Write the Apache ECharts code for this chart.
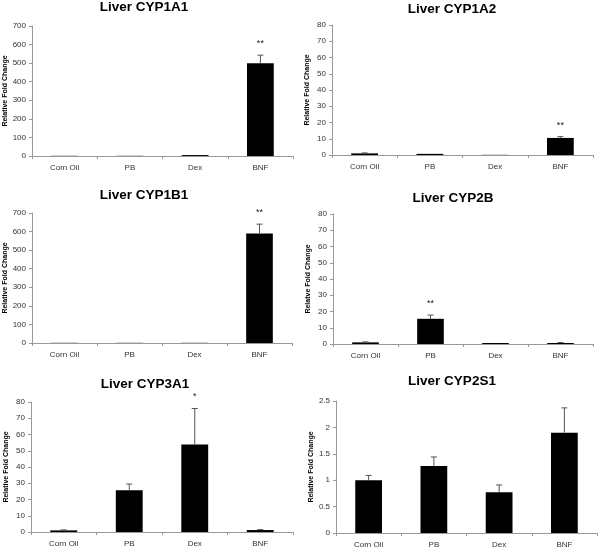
<!DOCTYPE html>
<html>
<head>
<meta charset="utf-8">
<title>Liver CYP expression</title>
<script src="https://cdn.jsdelivr.net/npm/echarts@6/dist/echarts.min.js"></script>
<style>
    html, body { margin: 0; padding: 0; background: #fff; }
    #chart { width: 600px; height: 549px; }
</style>
</head>
<body>
<div id="chart"></div>
<script>
// treatment groups
const categories = ['Corn Oil', 'PB', 'Dex', 'BNF']

// mean fold change and upper error (SD) per gene
const cyp1a1Mean = [1, 1, 5, 500]
const cyp1a1Err = [0.3, 0.3, 1, 43]
const cyp1a2Mean = [1, 0.7, 0.1, 10.5]
const cyp1a2Err = [0.3, 0.2, 0.05, 0.8]
const cyp1b1Mean = [1, 1, 1, 590]
const cyp1b1Err = [0.2, 0.2, 0.2, 50]
const cyp2bMean = [1, 15.5, 0.6, 0.6]
const cyp2bErr = [0.3, 2.3, 0.2, 0.3]
const cyp3a1Mean = [1, 25.7, 53.8, 1.2]
const cyp3a1Err = [0.3, 3.8, 22.2, 0.3]
const cyp2s1Mean = [1.0, 1.27, 0.77, 1.9]
const cyp2s1Err = [0.09, 0.17, 0.14, 0.47]

// significance marks
const cyp1a1Sig = ['', '', '', '**']
const cyp1a2Sig = ['', '', '', '**']
const cyp1b1Sig = ['', '', '', '**']
const cyp2bSig = ['', '**', '', '']
const cyp3a1Sig = ['', '', '*', '']
const cyp2s1Sig = ['', '', '', '']

// y axis ranges
const yMax = [700, 80, 700, 80, 80, 2.5]
const yStep = [100, 10, 100, 10, 10, 0.5]

const panels = [
    { title: 'Liver CYP1A1', yName: 'Relative Fold Change', mean: cyp1a1Mean, err: cyp1a1Err, sig: cyp1a1Sig },
    { title: 'Liver CYP1A2', yName: 'Relative Fold Change', mean: cyp1a2Mean, err: cyp1a2Err, sig: cyp1a2Sig },
    { title: 'Liver CYP1B1', yName: 'Relative Fold Change', mean: cyp1b1Mean, err: cyp1b1Err, sig: cyp1b1Sig },
    { title: 'Liver CYP2B', yName: 'Relatve Fold Change', mean: cyp2bMean, err: cyp2bErr, sig: cyp2bSig },
    { title: 'Liver CYP3A1', yName: 'Relative Fold Change', mean: cyp3a1Mean, err: cyp3a1Err, sig: cyp3a1Sig },
    { title: 'Liver CYP2S1', yName: 'Relative Fold Change', mean: cyp2s1Mean, err: cyp2s1Err, sig: cyp2s1Sig }
]

// layout of each panel (px)
const grids = [
    { left: 32, top: 26, width: 261, height: 130 },
    { left: 332, top: 25, width: 261, height: 130 },
    { left: 32, top: 213, width: 260, height: 130 },
    { left: 333, top: 214, width: 260, height: 130 },
    { left: 31, top: 402, width: 262, height: 130 },
    { left: 336, top: 401, width: 261, height: 133 }
]
const titlePos = [
    { x: 144, y: 0 }, { x: 452, y: 2 }, { x: 144, y: 188 },
    { x: 453, y: 191 }, { x: 145, y: 377 }, { x: 452, y: 374 }
]

const font = '"Liberation Sans", Arial, sans-serif'

function renderError(params, api) {
    const x = api.value(0)
    const base = api.coord([x, api.value(1)])
    const top = api.coord([x, api.value(1) + api.value(2)])
    const sig = panels[params.seriesIndex / 2 | 0].sig[x]
    const children = []
    // too small to see at this scale
    if (base[1] - top[1] >= 0.4) {
        children.push(
            { type: 'line', shape: { x1: base[0], y1: base[1], x2: top[0], y2: top[1] },
              style: { stroke: '#555', lineWidth: 1 } },
            { type: 'line', shape: { x1: top[0] - 3, y1: top[1], x2: top[0] + 3, y2: top[1] },
              style: { stroke: '#555', lineWidth: 1 } }
        )
    }
    if (sig) {
        children.push({
            type: 'text',
            style: { x: top[0], y: top[1] - 7, text: sig, align: 'center', verticalAlign: 'bottom',
                     font: '9px ' + font, fill: '#222' }
        })
    }
    return { type: 'group', children: children }
}

const option = {
    animation: false,
    backgroundColor: '#fff',
    title: panels.map((p, i) => ({
        text: p.title,
        left: titlePos[i].x,
        top: titlePos[i].y,
        padding: 0,
        textAlign: 'center',
        textStyle: { fontFamily: font, fontSize: 13.5, fontWeight: 'bold', color: '#000' }
    })),
    grid: grids,
    xAxis: panels.map((p, i) => ({
        type: 'category',
        gridIndex: i,
        data: categories,
        axisLine: { lineStyle: { color: '#999' } },
        axisTick: { show: true, length: 3, lineStyle: { color: '#999' } },
        axisLabel: { fontFamily: font, fontSize: 8, color: '#333', margin: 8 }
    })),
    yAxis: panels.map((p, i) => ({
        type: 'value',
        gridIndex: i,
        min: 0,
        max: yMax[i],
        interval: yStep[i],
        name: p.yName,
        nameLocation: 'middle',
        nameGap: 21,
        nameTextStyle: { fontFamily: font, fontSize: 7, fontWeight: 'bold', color: '#000' },
        axisLine: { show: true, lineStyle: { color: '#999' } },
        axisTick: { show: true, length: 3, lineStyle: { color: '#999' } },
        splitLine: { show: false },
        axisLabel: { fontFamily: font, fontSize: 8, color: '#333', margin: 6 }
    })),
    series: []
}

panels.forEach((p, i) => {
    option.series.push({
        type: 'bar',
        xAxisIndex: i,
        yAxisIndex: i,
        data: p.mean,
        barWidth: '41%',
        itemStyle: { color: '#000' }
    })
    option.series.push({
        type: 'custom',
        xAxisIndex: i,
        yAxisIndex: i,
        z: 5,
        renderItem: renderError,
        data: p.mean.map((m, k) => [k, m, p.err[k]])
    })
})

const myChart = echarts.init(document.getElementById('chart'))
option && myChart.setOption(option)
</script>
</body>
</html>
